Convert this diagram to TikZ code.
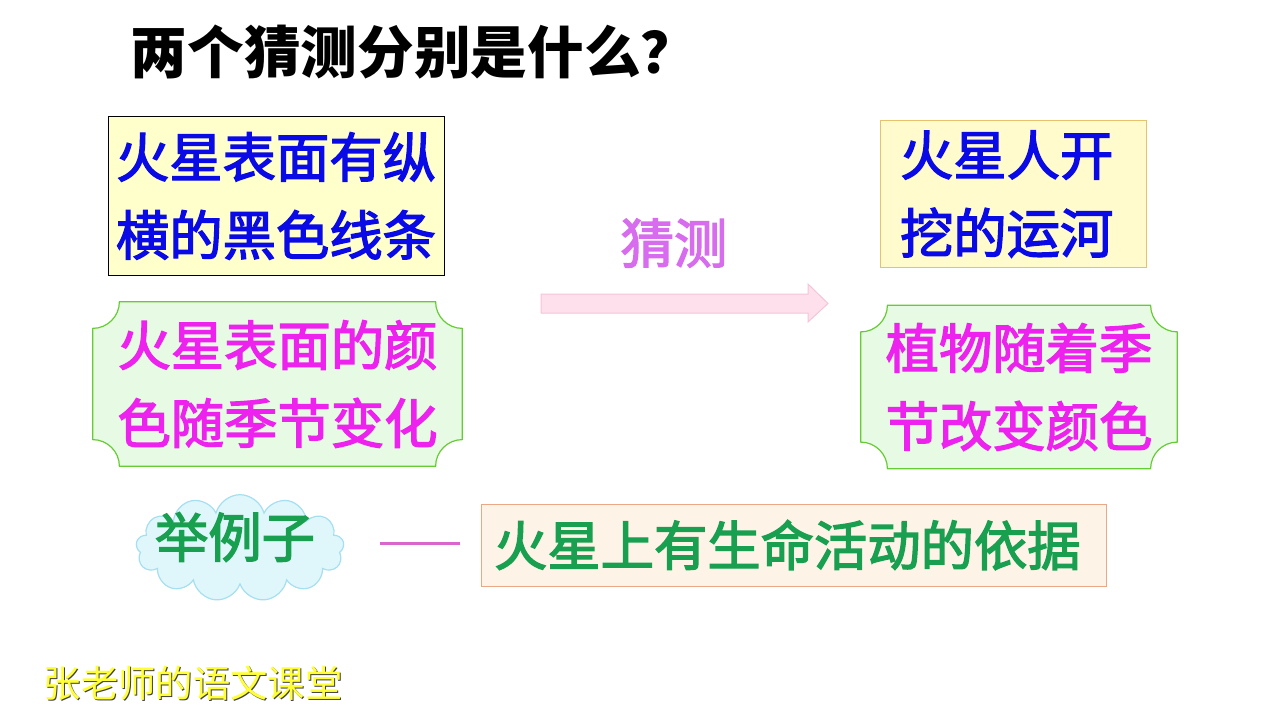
\documentclass[tikz,border=0pt]{standalone}
\usepackage{fontspec}
\newfontfamily\cjk{Noto Sans CJK SC}
\newfontfamily\cjkm{Noto Sans CJK SC}[FakeBold=2.5]
\usetikzlibrary{shapes.symbols,backgrounds,calc}
\definecolor{tblue}{HTML}{0A0AE6}
\definecolor{tmag}{HTML}{EE22EE}
\definecolor{tgreen}{HTML}{18A050}
\definecolor{tpurple}{HTML}{D86CEE}
\definecolor{yfill}{HTML}{FFFFCC}
\definecolor{yfillb}{HTML}{FFFBCC}
\definecolor{ydraw}{HTML}{E6C36A}
\definecolor{gfill}{HTML}{E6FAE4}
\definecolor{gdraw}{HTML}{66CC33}
\definecolor{cfill}{HTML}{DFF7FB}
\definecolor{cdraw}{HTML}{A6DFF0}
\definecolor{bfill}{HTML}{FEF3E7}
\definecolor{bdraw}{HTML}{EBA884}
\definecolor{afill}{HTML}{FEE0EC}
\definecolor{adraw}{HTML}{F6C4D8}
\definecolor{dashc}{HTML}{D966CC}
\definecolor{wmyellow}{HTML}{FFFF33}
\newcommand\plaquepath[1]{%
  \path[plqshape] let \p1=(#1.north west), \p2=(#1.south east) in
  (\x1+20pt,\y1) -- (\x2-20pt,\y1)
  .. controls (\x2-20pt,\y1-11pt) and (\x2-11pt,\y1-20pt) .. (\x2,\y1-20pt)
  -- (\x2,\y2+20pt)
  .. controls (\x2-11pt,\y2+20pt) and (\x2-20pt,\y2+11pt) .. (\x2-20pt,\y2)
  -- (\x1+20pt,\y2)
  .. controls (\x1+20pt,\y2+11pt) and (\x1+11pt,\y2+20pt) .. (\x1,\y2+20pt)
  -- (\x1,\y1-20pt)
  .. controls (\x1+11pt,\y1-20pt) and (\x1+20pt,\y1-11pt) .. (\x1+20pt,\y1) -- cycle;}
\begin{document}
\begin{tikzpicture}[x=0.75pt,y=-0.75pt,
  big/.style={font=\cjkm\fontsize{40}{58.5}\selectfont},
  boxone/.style={big, draw=black, line width=0.75pt, fill=yfill, text=tblue,
    minimum width=252pt, minimum height=118.5pt, align=center, inner sep=0pt},
  boxtwo/.style={big, draw=ydraw, line width=0.75pt, fill=yfillb, text=tblue,
    text width=169.5pt, inner xsep=15pt, minimum height=109.5pt, align=left},
  plq/.style={big, text=tmag, align=center, inner sep=0pt},
  plqshape/.style={draw=gdraw, fill=gfill, line width=0.9pt},
  banner/.style={big, draw=bdraw, fill=bfill, line width=0.75pt, text=tgreen,
    text width=449.25pt, inner xsep=9.75pt, minimum height=61.5pt, align=left}]
\useasboundingbox (0,0) rectangle (1280,720);
% title
\node[font=\cjk\bfseries\fontsize{42.5}{48}\selectfont] (title) at (414,52) {两个猜测分别是什么？};
% top row
\node[boxone] (obs1) at (276,196) {火星表面有纵\\横的黑色线条};
\node[boxtwo] (gue1) at (1013,194) {火星人开\\挖的运河};
% guess label and arrow
\node[big, text=tpurple] (guess) at (674,243) {猜测};
\draw[draw=adraw, fill=afill, line width=0.75pt]
  (541,294) -- (808,294) -- (808,284) -- (828,303.5) -- (808,322) -- (808,313) -- (541,313) -- cycle;
% plaques
\node[plq, minimum width=276.75pt, minimum height=123pt] (obs2) at (277.5,384) {火星表面的颜\\色随季节变化};
\node[plq, minimum width=237pt, minimum height=122.25pt] (gue2) at (1019,387) {植物随着季\\节改变颜色};
\begin{scope}[on background layer]
  \fill[white] (0,0) rectangle (1280,720);
  \plaquepath{obs2}
  \plaquepath{gue2}
\end{scope}
% cloud
\node[cloud, cloud puffs=13, aspect=2.1, draw=cdraw, fill=cfill, line width=0.9pt,
  minimum width=156pt, minimum height=80pt] (cl) at (240,548) {};
\node[big, text=tgreen] (ex) at (235,537) {举例子};
% dash
\coordinate (d1) at (380,543);
\coordinate (d2) at (460,543);
\draw[dashc, line width=2.25pt] (d1) -- (d2);
% banner
\node[banner] (basis) at (793.5,545) {火星上有生命活动的依据};
% watermark
\node[font=\cjk\fontsize{28}{30}\selectfont, text=black!75] (wmsh) at (194.2,684.2) {张老师的语文课堂};
\node[font=\cjk\fontsize{28}{30}\selectfont, text=wmyellow] (wm) at (193,683) {张老师的语文课堂};
\end{tikzpicture}
\end{document}
